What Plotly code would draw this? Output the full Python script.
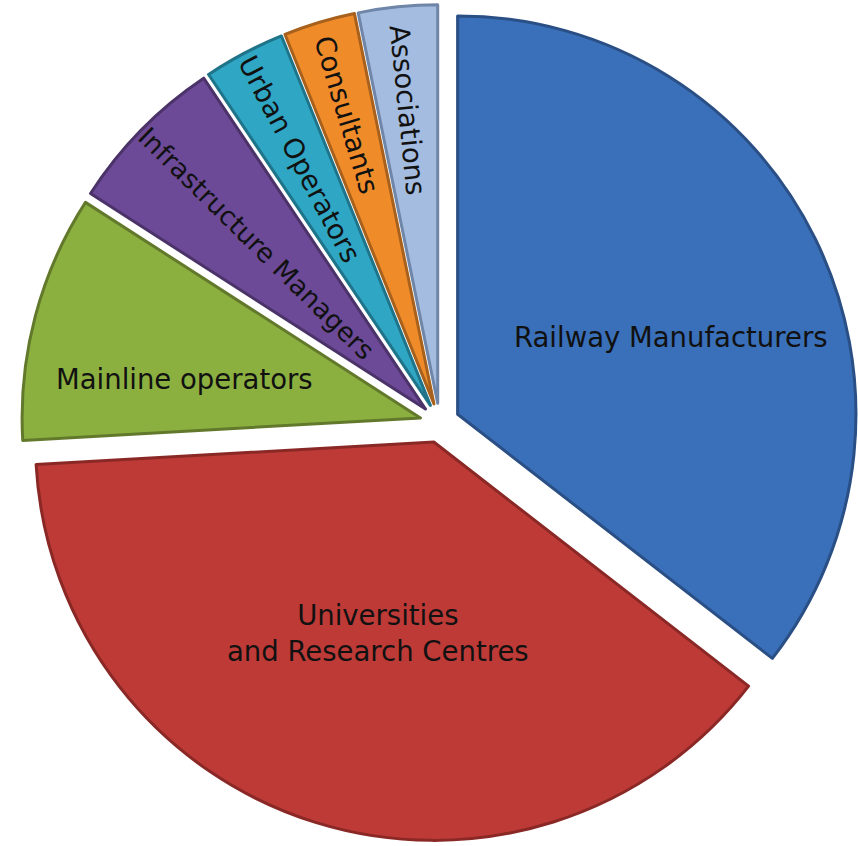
import math
import plotly.graph_objects as go

labels = ["Railway Manufacturers", "Universities<br>and Research Centres", "Mainline operators",
          "Infrastructure Managers", "Urban Operators", "Consultants", "Associations"]
values = [35.5, 38.6, 10.0, 6.5, 3.3, 2.9, 3.2]
colors = ["#3a6fb9", "#be3a37", "#8cb040", "#6c4a98", "#2ea6c4", "#f08b2a", "#a3bce0"]
edge_colors = ["#2a4f85", "#8a2826", "#62792c", "#4b3369", "#1f7489", "#a8611d", "#6f86a8"]
pulls = [0.05, 0.05, 0.05, 0.05, 0.05, 0.05, 0.05]
horizontal_idx = [0, 1, 2]
# label placement for horizontal labels: radial fraction and angular tweak (deg)
label_rfrac = {0: 0.57, 1: 0.50, 2: 0.60}
label_dtheta = {0: 5.7, 1: -1, 2: -5}

W, H = 858, 846
dom_x = [0.025, 1.0]
dom_y = [0.0, 1.0]

font = dict(family="DejaVu Sans", size=27.5, color="#111111")

text_r = [l if i not in horizontal_idx else "" for i, l in enumerate(labels)]

common = dict(values=values, sort=False, direction="clockwise", rotation=0,
              pull=pulls, domain=dict(x=dom_x, y=dom_y),
              hoverinfo="skip", showlegend=False)

fig = go.Figure()
fig.add_trace(go.Pie(labels=labels, textinfo="none",
                     marker=dict(colors=colors, line=dict(color=edge_colors, width=3)),
                     **common))
fig.add_trace(go.Pie(labels=labels, text=text_r, textinfo="text", textposition="inside",
                     insidetextorientation="radial", insidetextfont=font,
                     marker=dict(colors=["rgba(0,0,0,0)"] * len(values), line=dict(width=0)),
                     **common))

# horizontal labels placed from the slice geometry
cx = (dom_x[0] + dom_x[1]) / 2 * W
cy = (1 - (dom_y[0] + dom_y[1]) / 2) * H
r = min((dom_x[1] - dom_x[0]) * W, (dom_y[1] - dom_y[0]) * H) / 2 / (1 + max(pulls))
total = sum(values)
cum = 0
for i, v in enumerate(values):
    mid = (cum + v / 2) / total * 360
    cum += v
    if i not in horizontal_idx:
        continue
    th = math.radians(mid + label_dtheta[i])
    rr = (pulls[i] + label_rfrac[i]) * r
    px = cx + rr * math.sin(th)
    py = cy - rr * math.cos(th)
    fig.add_annotation(x=px / W, y=1 - py / H, xref="paper", yref="paper",
                       text=labels[i], showarrow=False, font=font,
                       xanchor="center", yanchor="middle", align="center")

fig.update_layout(width=W, height=H, margin=dict(l=0, r=0, t=0, b=0),
                  paper_bgcolor="white", plot_bgcolor="white")
fig.write_html("out.html")
